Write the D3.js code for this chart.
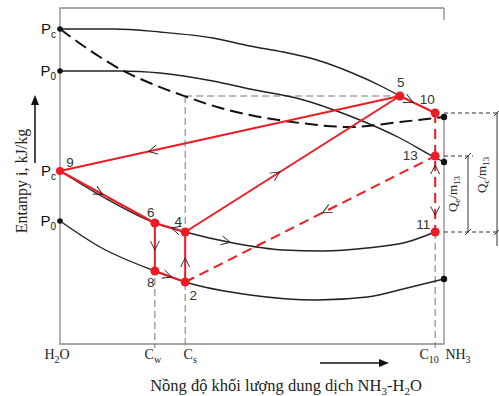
<!DOCTYPE html>
<meta charset="utf-8">
<script src="https://d3js.org/d3.v7.min.js"></script>
<style>
  body { margin: 0; background: #fff; }
  svg { display: block; }
</style>
<div id="chart"></div>
<script>
// concentration of NH3 (%) and enthalpy (kJ/kg, rough)
var pcVapor  = [[0,1575],[13.8,1575],[26,1560],[39.8,1530],[49.5,1490],[58.1,1460],[66.9,1420],[75.5,1360],[84.1,1285],[88.5,1240]];
var p0Vapor  = [[0,1365],[15.6,1365],[26,1355],[39.8,1315],[49.5,1275],[62.5,1225],[75.5,1140],[88.5,1030],[97.4,935],[100,910]];
var dewLine  = [[0,1575],[10.4,1435],[15.6,1375],[23.4,1305],[33.1,1235],[40.9,1185],[49.5,1145],[62.5,1105],[75.5,1085],[88.5,1110],[100,1135]];
var pcLiquid = [[0,865],[11.2,735],[24.7,605],[32.6,560],[45.1,505],[58.1,470],[68.5,465],[80,480],[90.4,510],[97.7,560]];
var p0Liquid = [[0,615],[10.4,485],[24.7,365],[32.6,310],[49.5,245],[66.9,220],[80,235],[90.4,280],[100,325]];

// pressure levels at the water axis
var pressureNames = ["c", "0", "c", "0"];
var pressureEnth  = [1575, 1365, 865, 615];

// end points on the ammonia axis
var nh3Enth = [1135, 910, 325];

// cycle state points
var pointIds  = ["9", "6", "4", "8", "2", "5", "10", "13", "11"];
var pointConc = [0, 24.7, 32.6, 24.7, 32.6, 88.5, 97.7, 97.7, 97.7];
var pointEnth = [865, 605, 560, 365, 310, 1240, 1155, 940, 560];

var solidLinks  = [["9","5"],["4","5"],["9","6"],["6","8"],["8","2"],["2","4"],["4","6"],["5","10"]];
var dashedLinks = [["10","11"],["2","13"]];

// flow arrows: from, to, fraction along
var flowArrows = [["5","9",0.74],["9","6",0.45],["6","8",0.56],["8","2",0.55],["2","4",0.48],
                  ["4","6",0.45],["4","5",0.44],["13","2",0.45],["5","10",0.37],["10","11",0.86],["11","13",0.88]];

// concentration ticks
var tickConc = [0, 24.7, 32.6, 97.7, 100];
var tickMain = ["H", "C", "C", "C", "NH"];
var tickSub  = ["2", "w", "s", "10", "3"];
var tickTail = ["O", "", "", "", ""];

var W = 499, H = 396;
var svg = d3.select("#chart").append("svg").attr("width", W).attr("height", H);

var x = d3.scaleLinear().domain([0, 100]).range([60, 444]);
var y = d3.scaleLinear().domain([0, 1680]).range([344, 8]);

var pt = {};
pointIds.forEach(function(id, i) { pt[id] = [pointConc[i], pointEnth[i]]; });

var serif = "'Liberation Serif', 'DejaVu Serif', serif";
var sans = "'Liberation Sans', Arial, sans-serif";

// frame
var frame = svg.append("g").attr("stroke", "#8a8a8a").attr("stroke-width", 1.3).attr("fill", "none");
frame.append("path").attr("d", "M" + x(100) + "," + y(1680) + "H" + x(0) + "V" + y(0) + "H" + x(100) + "V" + y(1135));
frame.append("line").attr("x1", x(100)).attr("x2", x(100)).attr("y1", y(1680)).attr("y2", y(1620));

// gray guide lines
var guide = svg.append("g").attr("stroke", "#777").attr("stroke-width", 1).attr("stroke-dasharray", "7,4").attr("fill", "none");
guide.append("line").attr("x1", x(pt["4"][0])).attr("x2", x(pt["5"][0])).attr("y1", y(pt["5"][1])).attr("y2", y(pt["5"][1]));
guide.append("line").attr("x1", x(pt["4"][0])).attr("x2", x(pt["4"][0])).attr("y1", y(pt["5"][1])).attr("y2", y(0) + 4);
guide.append("line").attr("x1", x(pt["6"][0])).attr("x2", x(pt["6"][0])).attr("y1", y(pt["6"][1])).attr("y2", y(0) + 4);
guide.append("line").attr("x1", x(pt["11"][0])).attr("x2", x(pt["11"][0])).attr("y1", y(pt["11"][1])).attr("y2", y(0) + 4);

// black curves
var line = d3.line().x(function(d) { return x(d[0]); }).y(function(d) { return y(d[1]); }).curve(d3.curveMonotoneX);
[pcVapor, p0Vapor, pcLiquid, p0Liquid].forEach(function(c) {
  svg.append("path").attr("d", line(c)).attr("fill", "none").attr("stroke", "#222").attr("stroke-width", 1.4);
});
svg.append("path").attr("d", line(dewLine)).attr("fill", "none").attr("stroke", "#111")
  .attr("stroke-width", 2).attr("stroke-dasharray", "13,6");

// right dimension lines
var dim = svg.append("g").attr("stroke", "#333").attr("stroke-width", 1).attr("fill", "none");
[[pt["10"][1], 499], [pt["13"][1], 473], [pt["11"][1], 499]].forEach(function(d) {
  dim.append("line").attr("x1", x(100)).attr("x2", d[1]).attr("y1", y(d[0])).attr("y2", y(d[0])).attr("stroke-dasharray", "4,3");
});
dim.append("line").attr("x1", 468).attr("x2", 468).attr("y1", y(pt["13"][1])).attr("y2", y(pt["11"][1]));
dim.append("line").attr("x1", 497).attr("x2", 497).attr("y1", y(pt["10"][1])).attr("y2", y(pt["11"][1]) + 14);
[[468, pt["13"][1]], [468, pt["11"][1]], [497, pt["10"][1]], [497, pt["11"][1]]].forEach(function(d) {
  dim.append("line").attr("x1", d[0] - 3).attr("x2", d[0] + 3).attr("y1", y(d[1]) + 3).attr("y2", y(d[1]) - 3);
});

function subText(g, parts, size, subSize) {
  var t = g;
  parts.forEach(function(p, i) {
    if (!p) return;
    var s = t.append("tspan").text(p);
    if (i % 2 === 1) s.attr("font-size", subSize).attr("dy", size * 0.25);
    else if (i > 0) s.attr("dy", -size * 0.25);
  });
}

var qLabels = [[457, (pt["13"][1] + pt["11"][1]) / 2, "e"], [486, (pt["10"][1] + pt["11"][1]) / 2 - 12, "c"]];
qLabels.forEach(function(d) {
  var t = svg.append("text").attr("transform", "translate(" + d[0] + "," + y(d[1]) + ") rotate(-90)")
    .attr("text-anchor", "middle").attr("font-family", serif).attr("font-size", 13).attr("fill", "#222");
  subText(t, ["Q", d[2], "/m", "13"], 13, 9);
});

// cycle lines
var red = "#ec1c24";
solidLinks.forEach(function(l) {
  svg.append("line").attr("x1", x(pt[l[0]][0])).attr("y1", y(pt[l[0]][1])).attr("x2", x(pt[l[1]][0])).attr("y2", y(pt[l[1]][1]))
    .attr("stroke", red).attr("stroke-width", 2);
});
dashedLinks.forEach(function(l) {
  svg.append("line").attr("x1", x(pt[l[0]][0])).attr("y1", y(pt[l[0]][1])).attr("x2", x(pt[l[1]][0])).attr("y2", y(pt[l[1]][1]))
    .attr("stroke", red).attr("stroke-width", 2).attr("stroke-dasharray", "10,6");
});

// chevrons
function chevron(a, b, t) {
  var x1 = x(a[0]), y1 = y(a[1]), x2 = x(b[0]), y2 = y(b[1]);
  var px = x1 + t * (x2 - x1), py = y1 + t * (y2 - y1);
  var ang = Math.atan2(y2 - y1, x2 - x1) * 180 / Math.PI;
  svg.append("path").attr("d", "M-9,-4.5L0,0L-9,4.5").attr("fill", "none").attr("stroke", "#222").attr("stroke-width", 0.9)
    .attr("transform", "translate(" + px + "," + py + ") rotate(" + ang + ")");
}
flowArrows.forEach(function(f) { chevron(pt[f[0]], pt[f[1]], f[2]); });
chevron(pcLiquid[3], pcLiquid[4], 0.94);

// dots
pressureEnth.forEach(function(h, i) {
  if (i === 2) return;
  svg.append("circle").attr("cx", x(0)).attr("cy", y(h)).attr("r", 2.8).attr("fill", "#111");
});
nh3Enth.forEach(function(h) {
  svg.append("circle").attr("cx", x(100)).attr("cy", y(h)).attr("r", 3.2).attr("fill", "#111");
});
pointIds.forEach(function(id) {
  svg.append("circle").attr("cx", x(pt[id][0])).attr("cy", y(pt[id][1])).attr("r", id === "9" ? 4 : 4.5).attr("fill", red);
});

// point labels
var labelOffset = {"9": [10, -4, sans], "6": [-4, -6, sans], "4": [-7, -6, sans], "8": [-4, 16, sans], "2": [8, 18, sans],
                   "5": [1, -9, sans], "10": [-8, -9, sans], "13": [-25, 4, sans], "11": [-12, -3, sans]};
pointIds.forEach(function(id) {
  var o = labelOffset[id];
  svg.append("text").attr("x", x(pt[id][0]) + o[0]).attr("y", y(pt[id][1]) + o[1])
    .attr("text-anchor", "middle").attr("font-family", o[2]).attr("font-size", 13.5).attr("fill", "#333").text(id);
});

// pressure labels
pressureEnth.forEach(function(h, i) {
  var t = svg.append("text").attr("x", x(0) - 4).attr("y", y(h) + 5).attr("text-anchor", "end")
    .attr("font-family", sans).attr("font-size", 15).attr("fill", "#111");
  subText(t, ["P", pressureNames[i]], 15, 10);
});

// concentration tick labels
var tickShift = [-3, -2, 5, -6, 14];
tickConc.forEach(function(c, i) {
  var t = svg.append("text").attr("x", x(c) + tickShift[i]).attr("y", 359).attr("text-anchor", "middle")
    .attr("font-family", serif).attr("font-size", 14).attr("fill", "#222");
  subText(t, [tickMain[i], tickSub[i], tickTail[i]], 14, 10);
});

// axis titles
var xt = svg.append("text").attr("x", 286).attr("y", 391).attr("text-anchor", "middle")
  .attr("font-family", serif).attr("font-size", 16.5).attr("fill", "#222");
subText(xt, ["Nồng độ khối lượng dung dịch NH", "3", "-H", "2", "O"], 16.5, 11);

svg.append("text").attr("transform", "translate(27,181) rotate(-90)").attr("text-anchor", "middle")
  .attr("font-family", serif).attr("font-size", 16).attr("fill", "#222").text("Entanpy i, kJ/kg");

// direction arrows
svg.append("line").attr("x1", 35).attr("x2", 35).attr("y1", 163).attr("y2", 104).attr("stroke", "#111").attr("stroke-width", 1.5);
svg.append("path").attr("d", "M31,105L35,95L39,105Z").attr("fill", "#111");
svg.append("line").attr("x1", 320).attr("x2", 380).attr("y1", 363).attr("y2", 363).attr("stroke", "#111").attr("stroke-width", 1.5);
svg.append("path").attr("d", "M379,359L389,363L379,367Z").attr("fill", "#111");
</script>
